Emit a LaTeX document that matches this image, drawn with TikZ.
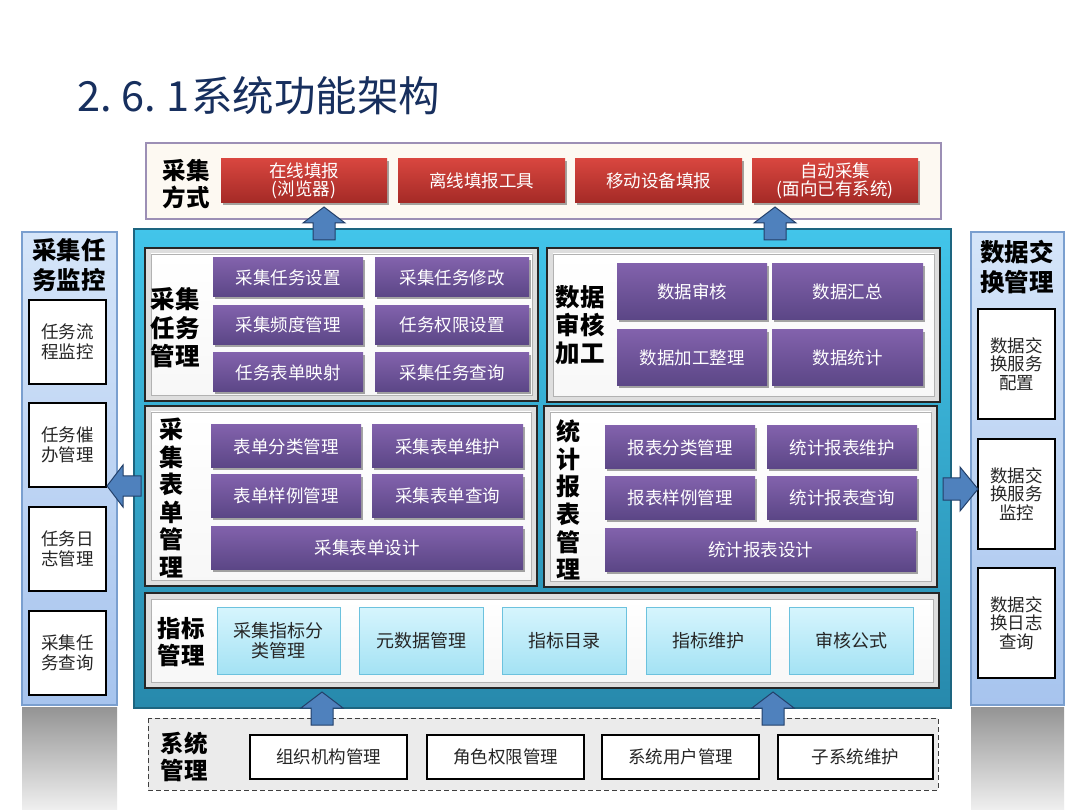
\documentclass[tikz,border=0pt]{standalone}
\usepackage{fontspec}
\setmainfont{Noto Sans CJK SC}
\usetikzlibrary{shadows}

\definecolor{titlec}{HTML}{172F5E}
\definecolor{redtop}{HTML}{D8463F}
\definecolor{redbot}{HTML}{A42A26}
\definecolor{purtop}{HTML}{8262AC}
\definecolor{purbot}{HTML}{5B4686}
\definecolor{cyantop}{HTML}{D6F5FD}
\definecolor{cyanbot}{HTML}{A4E2F4}
\definecolor{cyanedge}{HTML}{6CC2DE}
\definecolor{maintop}{HTML}{42C5EA}
\definecolor{mainbot}{HTML}{2789AC}
\definecolor{mainedge}{HTML}{1D6580}
\definecolor{sidetop}{HTML}{D5E5F9}
\definecolor{sidebot}{HTML}{A7C4EE}
\definecolor{sideedge}{HTML}{7A9FCF}
\definecolor{arrfill}{HTML}{4F81BD}
\definecolor{arredge}{HTML}{23406A}
\definecolor{creamfill}{HTML}{FDF9F2}
\definecolor{creamedge}{HTML}{9C8FB5}
\definecolor{sysfill}{HTML}{EBEBEB}

\tikzset{
  shd/.style={drop shadow={shadow xshift=1.5pt,shadow yshift=-2.5pt,opacity=0.35,fill=black}},
  redbox/.style={shd,top color=redtop,bottom color=redbot,text=white,align=center,inner sep=0pt,
    font=\fontsize{17.5}{18}\selectfont},
  purbox/.style={shd,top color=purtop,bottom color=purbot,text=white,align=center,inner sep=0pt,
    font=\fontsize{17.5}{19}\selectfont},
  cyanbox/.style={draw=cyanedge,line width=0.8pt,top color=cyantop,bottom color=cyanbot,text=black!85,
    align=center,inner sep=0pt,font=\fontsize{18}{20}\selectfont},
  whitebox/.style={draw=black,line width=1.2pt,fill=white,text=black!85,align=center,inner sep=0pt,
    font=\fontsize{17.5}{19.5}\selectfont},
  lbl/.style={align=center,inner sep=0pt,text=black,font=\bfseries\fontsize{23.5}{27}\selectfont},
  vlbl/.style={align=center,inner sep=0pt,text=black,font=\bfseries\fontsize{24}{27.6}\selectfont},
  blkarrow/.style={draw=arredge,line width=1pt,fill=arrfill,line join=miter},
  panelouter/.style={fill=black!13},
  panelinner/.style={top color=white,bottom color=black!3},
  panelline/.style={draw=black!85,line width=1.3pt},
}

% block arrows: up (cx, tip y, shaft end y), left/right (tip x, cy, shaft end x)
\newcommand\blkup[3]{\draw[blkarrow] (#1,#2) -- (#1+21,#2+16) -- (#1+11,#2+16) -- (#1+11,#3)
  -- (#1-11,#3) -- (#1-11,#2+16) -- (#1-21,#2+16) -- cycle;}
\newcommand\blkleft[3]{\draw[blkarrow] (#1,#2) -- (#1+16,#2-21) -- (#1+16,#2-10) -- (#3,#2-10)
  -- (#3,#2+10) -- (#1+16,#2+10) -- (#1+16,#2+21) -- cycle;}
\newcommand\blkright[3]{\draw[blkarrow] (#1,#2) -- (#1-18,#2-22) -- (#1-18,#2-11) -- (#3,#2-11)
  -- (#3,#2+11) -- (#1-18,#2+11) -- (#1-18,#2+22) -- cycle;}
\newcommand\bevelpanel[4]{%
  \fill[panelouter] (#1,#2) rectangle (#3,#4);
  \fill[panelinner] (#1+6,#2+6) rectangle (#3-6,#4-6);
  \draw[black!30,line width=0.5pt] (#1+6,#2+6) rectangle (#3-6,#4-6);
  \draw[panelline] (#1,#2) rectangle (#3,#4);}

\begin{document}
\begin{tikzpicture}[x=1pt,y=-1pt]
\useasboundingbox (0,0) rectangle (1080,810);
\fill[white] (0,0) rectangle (1080,810);

% title
\node[anchor=base west,inner sep=0pt,text=titlec,font=\fontsize{41.5}{41.5}\selectfont]
  (title) at (77,112) {2.\kern10pt6.\kern10pt1\kern2pt系统功能架构};

% ---------- 采集方式 ----------
\draw[creamedge,line width=1.3pt,fill=creamfill] (146,143) rectangle (941,219);
\node[lbl] (cjfs) at (186,184) {采集\\方式};
\node[redbox,minimum width=166pt,minimum height=44pt] (r1) at (304,181) {在线填报\\(浏览器)};
\node[redbox,minimum width=167pt,minimum height=44pt] (r2) at (481.5,181) {离线填报工具};
\node[redbox,minimum width=167pt,minimum height=44pt] (r3) at (658.5,181) {移动设备填报};
\node[redbox,minimum width=166pt,minimum height=44pt] (r4) at (835,181) {自动采集\\(面向已有系统)};

% ---------- side panels ----------
\shade[top color=black!42,bottom color=black!6] (22,707) rectangle (117,810);
\shade[top color=black!42,bottom color=black!6] (971,707) rectangle (1064,810);
\draw[sideedge,line width=1.2pt,top color=sidetop,bottom color=sidebot] (22,232) rectangle (117,705);
\draw[sideedge,line width=1.2pt,top color=sidetop,bottom color=sidebot] (971,232) rectangle (1064,705);

\node[lbl,font=\bfseries\fontsize{24.5}{29.5}\selectfont] (lt) at (69,265) {采集任\\务监控};
\node[whitebox,minimum width=77pt,minimum height=84pt] (l1) at (67.5,342) {任务流\\程监控};
\node[whitebox,minimum width=77pt,minimum height=84pt] (l2) at (67.5,445) {任务催\\办管理};
\node[whitebox,minimum width=77pt,minimum height=84pt] (l3) at (67.5,549) {任务日\\志管理};
\node[whitebox,minimum width=77pt,minimum height=84pt] (l4) at (67.5,653) {采集任\\务查询};

\node[lbl,font=\bfseries\fontsize{24.5}{29.5}\selectfont] (rt) at (1017,267) {数据交\\换管理};
\node[whitebox,minimum width=77pt,minimum height=110pt,font=\fontsize{17.5}{18.5}\selectfont] (x1) at (1016.5,364) {数据交\\换服务\\配置};
\node[whitebox,minimum width=77pt,minimum height=110pt,font=\fontsize{17.5}{18.5}\selectfont] (x2) at (1016.5,494) {数据交\\换服务\\监控};
\node[whitebox,minimum width=77pt,minimum height=110pt,font=\fontsize{17.5}{18.5}\selectfont] (x3) at (1016.5,623) {数据交\\换日志\\查询};

% ---------- main panel ----------
\draw[mainedge,line width=1.5pt,top color=maintop,bottom color=mainbot] (134,229) rectangle (951,708);

% top arrows
\blkup{324}{207}{240}
\blkup{775}{207}{240}

% 采集任务管理
\bevelpanel{145}{248}{538}{401}
\node[lbl,font=\bfseries\fontsize{24.5}{28.5}\selectfont] (cjrw) at (175,328) {采集\\任务\\管理};
\node[purbox,minimum width=150pt,minimum height=39pt] (a1) at (288,277.5) {采集任务设置};
\node[purbox,minimum width=154pt,minimum height=39pt] (a2) at (452,277.5) {采集任务修改};
\node[purbox,minimum width=150pt,minimum height=39pt] (a3) at (288,325) {采集频度管理};
\node[purbox,minimum width=154pt,minimum height=39pt] (a4) at (452,325) {任务权限设置};
\node[purbox,minimum width=150pt,minimum height=39pt] (a5) at (288,372.5) {任务表单映射};
\node[purbox,minimum width=154pt,minimum height=39pt] (a6) at (452,372.5) {采集任务查询};

% 数据审核加工
\bevelpanel{547}{248}{940}{402}
\node[lbl,font=\bfseries\fontsize{24.5}{28}\selectfont] (sjsh) at (580,325) {数据\\审核\\加工};
\node[purbox,minimum width=150pt,minimum height=56pt] (b1) at (692,291.5) {数据审核};
\node[purbox,minimum width=151pt,minimum height=56pt] (b2) at (847.5,291.5) {数据汇总};
\node[purbox,minimum width=150pt,minimum height=56pt] (b3) at (692,358) {数据加工整理};
\node[purbox,minimum width=151pt,minimum height=56pt] (b4) at (847.5,358) {数据统计};

% 采集表单管理
\bevelpanel{145}{406}{537}{586}
\node[vlbl] (cjbd) at (171,498) {采\\集\\表\\单\\管\\理};
\node[purbox,minimum width=150pt,minimum height=43pt] (c1) at (286,446.5) {表单分类管理};
\node[purbox,minimum width=151pt,minimum height=43pt] (c2) at (447.5,446.5) {采集表单维护};
\node[purbox,minimum width=150pt,minimum height=42pt] (c3) at (286,496) {表单样例管理};
\node[purbox,minimum width=151pt,minimum height=42pt] (c4) at (447.5,496) {采集表单查询};
\node[purbox,minimum width=312pt,minimum height=43pt] (c5) at (367,547.5) {采集表单设计};

% 统计报表管理
\bevelpanel{544}{406}{937}{587}
\node[vlbl] (tjbb) at (568,500) {统\\计\\报\\表\\管\\理};
\node[purbox,minimum width=150pt,minimum height=43pt] (d1) at (680,447.5) {报表分类管理};
\node[purbox,minimum width=150pt,minimum height=43pt] (d2) at (842,447.5) {统计报表维护};
\node[purbox,minimum width=150pt,minimum height=42pt] (d3) at (680,498) {报表样例管理};
\node[purbox,minimum width=150pt,minimum height=42pt] (d4) at (842,498) {统计报表查询};
\node[purbox,minimum width=311pt,minimum height=43pt] (d5) at (760.5,549.5) {统计报表设计};

% 指标管理
\bevelpanel{145}{593}{939}{688}
\node[lbl] (zbgl) at (181,642) {指标\\管理};
\node[cyanbox,minimum width=123pt,minimum height=67pt] (e1) at (278.5,640.5) {采集指标分\\类管理};
\node[cyanbox,minimum width=124pt,minimum height=67pt] (e2) at (421,640.5) {元数据管理};
\node[cyanbox,minimum width=124pt,minimum height=67pt] (e3) at (564,640.5) {指标目录};
\node[cyanbox,minimum width=124pt,minimum height=67pt] (e4) at (708,640.5) {指标维护};
\node[cyanbox,minimum width=124pt,minimum height=67pt] (e5) at (851,640.5) {审核公式};

% side arrows
\blkleft{107}{486}{141}
\blkright{978}{489}{943}

% ---------- 系统管理 ----------
\draw[black!75,line width=1pt,dash pattern=on 5pt off 3pt,fill=sysfill] (148,718) rectangle (938,790);
\blkup{322}{692}{725}
\blkup{773}{692}{725}
\node[lbl] (xtgl) at (184,757) {系统\\管理};
\node[whitebox,minimum width=157pt,minimum height=44pt] (s1) at (328.5,757) {组织机构管理};
\node[whitebox,minimum width=157pt,minimum height=44pt] (s2) at (505.5,757) {角色权限管理};
\node[whitebox,minimum width=157pt,minimum height=44pt] (s3) at (680.5,757) {系统用户管理};
\node[whitebox,minimum width=155pt,minimum height=44pt] (s4) at (855.5,757) {子系统维护};
\end{tikzpicture}
\end{document}
